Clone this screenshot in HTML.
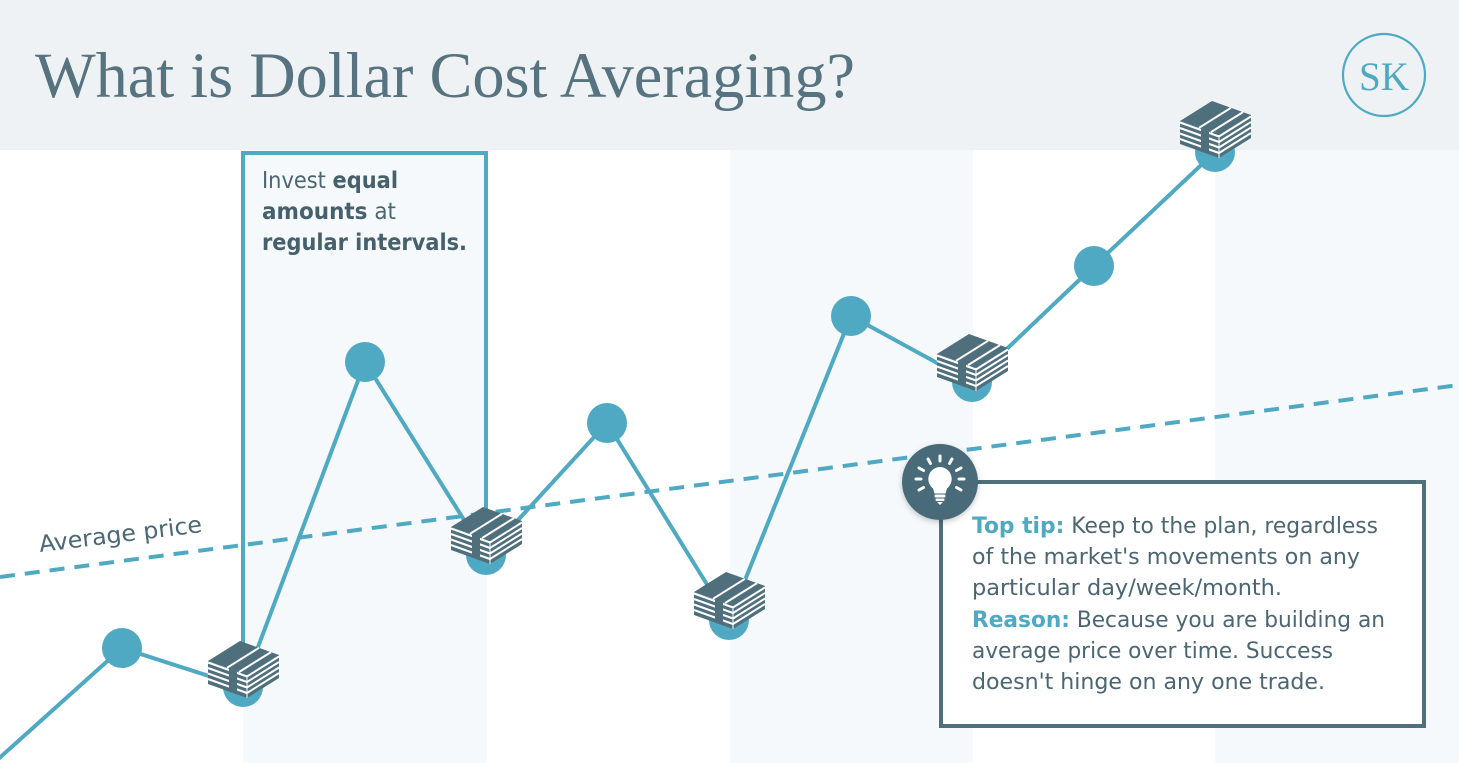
<!DOCTYPE html>
<html>
<head>
<meta charset="utf-8">
<style>
  html,body{margin:0;padding:0;background:#fff;}
  svg{display:block;}
</style>
</head>
<body>
<svg width="1459" height="763" viewBox="0 0 1459 763" xmlns="http://www.w3.org/2000/svg">
  <defs>
    <filter id="sh" x="-30%" y="-30%" width="160%" height="160%">
      <feDropShadow dx="0" dy="2" stdDeviation="3" flood-color="#000" flood-opacity="0.22"/>
    </filter>
    <g id="stack">
      <polygon points="-35,-29 4,-15 36,-35 -3,-49" fill="#4f6f7c"/>
      <polygon points="-35,-29 4,-15 4,8 -35,-6" fill="#4f6f7c"/>
      <polygon points="4,-15 36,-35 36,-12 4,8" fill="#4f6f7c"/>
      <g stroke="#fff" stroke-width="2">
        <line x1="-35" y1="-27.5" x2="4" y2="-13.5"/>
        <line x1="-35" y1="-22" x2="4" y2="-8"/>
        <line x1="-35" y1="-16.5" x2="4" y2="-2.5"/>
        <line x1="-35" y1="-11" x2="4" y2="3"/>
        <line x1="4" y1="-13.5" x2="36" y2="-33.5"/>
        <line x1="4" y1="-8" x2="36" y2="-28"/>
        <line x1="4" y1="-2.5" x2="36" y2="-22.5"/>
        <line x1="4" y1="3" x2="36" y2="-17"/>
        <line x1="4" y1="-15" x2="4" y2="8" stroke-width="1"/>
      </g>
      <polygon points="-14,-21.5 -6,-18.6 -6,4.4 -14,1.5" fill="#4f6f7c"/>
      <g stroke="#fff" stroke-width="2">
        <line x1="-16" y1="-22.2" x2="16" y2="-42.2"/>
        <line x1="-4" y1="-17.9" x2="28" y2="-37.9"/>
      </g>
    </g>
  </defs>

  <!-- background bands -->
  <rect x="0" y="0" width="1459" height="763" fill="#ffffff"/>
  <rect x="243" y="150" width="244" height="613" fill="#f5f9fb"/>
  <rect x="730" y="150" width="243" height="613" fill="#f5f9fb"/>
  <rect x="1215" y="150" width="244" height="613" fill="#f5f9fb"/>

  <!-- header -->
  <rect x="0" y="0" width="1459" height="150" fill="#eef2f4"/>
  <text x="35" y="97" font-family="'Liberation Serif', serif" font-size="65" fill="#56737f" textLength="820" lengthAdjust="spacingAndGlyphs">What is Dollar Cost Averaging?</text>
  <circle cx="1384" cy="75" r="41" fill="none" stroke="#4fa9c2" stroke-width="2.2"/>
  <text x="1384" y="90" text-anchor="middle" font-family="'Liberation Serif', serif" font-size="40" fill="#4fa9c2" textLength="50" lengthAdjust="spacingAndGlyphs">SK</text>

  <!-- average dashed line -->
  <line x1="0" y1="577" x2="1459" y2="385" stroke="#4fa9c2" stroke-width="4" stroke-dasharray="15 10"/>
  <text transform="translate(40,552) rotate(-7)" font-family="'DejaVu Sans', sans-serif" font-size="23" fill="#4b6874" textLength="164" lengthAdjust="spacingAndGlyphs">Average price</text>

  <!-- left explanation box -->
  <path d="M243,690 V153 H486 V555" fill="none" stroke="#4fa9c2" stroke-width="4"/>
  <g font-family="'DejaVu Sans', sans-serif" font-size="23" fill="#4b6672">
    <text x="262" y="188" textLength="136" lengthAdjust="spacingAndGlyphs">Invest <tspan font-weight="bold" fill="#46616d">equal</tspan></text>
    <text x="262" y="219" textLength="134" lengthAdjust="spacingAndGlyphs"><tspan font-weight="bold" fill="#46616d">amounts</tspan> at</text>
    <text x="262" y="250" font-weight="bold" fill="#46616d" textLength="205" lengthAdjust="spacingAndGlyphs">regular intervals.</text>
  </g>

  <!-- price line -->
  <polyline points="-4,761 122,648 243,687 365,362 486,555 607,423 729,620 851,316 972,382 1094,266 1215,152" fill="none" stroke="#4fa9c2" stroke-width="4" stroke-linejoin="round"/>
  <g fill="#4fa9c2">
    <circle cx="122" cy="648" r="20"/>
    <circle cx="243" cy="687" r="20"/>
    <circle cx="365" cy="362" r="20"/>
    <circle cx="486" cy="555" r="20"/>
    <circle cx="607" cy="423" r="20"/>
    <circle cx="729" cy="620" r="20"/>
    <circle cx="851" cy="316" r="20"/>
    <circle cx="972" cy="382" r="20"/>
    <circle cx="1094" cy="266" r="20"/>
    <circle cx="1215" cy="152" r="20"/>
  </g>

  <!-- money stacks -->
  <use href="#stack" x="243" y="690"/>
  <use href="#stack" x="486" y="556"/>
  <use href="#stack" x="729" y="621"/>
  <use href="#stack" x="972" y="383"/>
  <use href="#stack" x="1215" y="150"/>

  <!-- tip box -->
  <rect x="941" y="482" width="483" height="244" fill="#ffffff" stroke="#4f6f7b" stroke-width="4"/>
  <g font-family="'DejaVu Sans', sans-serif" font-size="22" fill="#4b6672">
    <text x="972" y="533" textLength="406" lengthAdjust="spacingAndGlyphs"><tspan font-weight="bold" fill="#4fa9c2">Top tip:</tspan> Keep to the plan, regardless</text>
    <text x="972" y="564" textLength="388" lengthAdjust="spacingAndGlyphs">of the market's movements on any</text>
    <text x="972" y="595" textLength="310" lengthAdjust="spacingAndGlyphs">particular day/week/month.</text>
    <text x="972" y="627" textLength="413" lengthAdjust="spacingAndGlyphs"><tspan font-weight="bold" fill="#4fa9c2">Reason:</tspan> Because you are building an</text>
    <text x="972" y="658" textLength="361" lengthAdjust="spacingAndGlyphs">average price over time. Success</text>
    <text x="972" y="689" textLength="353" lengthAdjust="spacingAndGlyphs">doesn't hinge on any one trade.</text>
  </g>

  <!-- lightbulb badge -->
  <circle cx="940" cy="482" r="38" fill="#4a6b78" filter="url(#sh)"/>
  <g fill="#ffffff">
    <path d="M940,467 a12,12 0 0 1 7,21.5 l-1.5,5 h-11 l-1.5,-5 a12,12 0 0 1 7,-21.5 z"/>
    <rect x="934.5" y="494.5" width="11" height="3" rx="1"/>
    <rect x="935.5" y="498.5" width="9" height="2.5" rx="1"/>
    <path d="M937,502 h6 l-3,3 z"/>
  </g>
  <g stroke="#ffffff" stroke-width="3" stroke-linecap="round">
    <line x1="940" y1="461" x2="940" y2="456"/>
    <line x1="930.5" y1="463.5" x2="928" y2="459"/>
    <line x1="949.5" y1="463.5" x2="952" y2="459"/>
    <line x1="923.5" y1="470.5" x2="919" y2="468"/>
    <line x1="956.5" y1="470.5" x2="961" y2="468"/>
    <line x1="921" y1="479" x2="916" y2="479"/>
    <line x1="959" y1="479" x2="964" y2="479"/>
    <line x1="923.5" y1="487.5" x2="919" y2="490"/>
    <line x1="956.5" y1="487.5" x2="961" y2="490"/>
  </g>
</svg>
</body>
</html>
